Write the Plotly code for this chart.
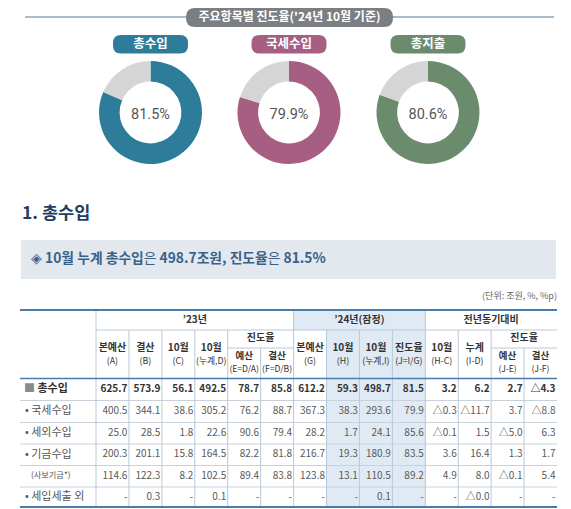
import plotly.graph_objects as go

# ---- data ----
donut_names = ["총수입", "국세수입", "총지출"]
donut_rates = [81.5, 79.9, 80.6]
donut_colors = ["#2d7d9a", "#a65e82", "#6b8b6d"]

group_labels = ["’23년", "’24년(잠정)", "전년동기대비"]
group_spans = [(0, 6), (6, 10), (10, 14)]
col_top = ["본예산", "결산", "10월", "10월", "예산", "결산", "본예산",
           "10월", "10월", "진도율", "10월", "누계", "예산", "결산"]
col_bottom = ["(A)", "(B)", "(C)", "(누계,D)", "(E=D/A)", "(F=D/B)", "(G)",
              "(H)", "(누계,I)", "(J=I/G)", "(H-C)", "(I-D)", "(J-E)", "(J-F)"]
sub_groups = [(4, 6), (12, 14)]  # '진도율' spans

row_labels = ["총수입", "국세수입", "세외수입", "기금수입", "(사보기금*)", "세입세출 외"]
row_values = [
    ["625.7", "573.9", "56.1", "492.5", "78.7", "85.8", "612.2", "59.3", "498.7", "81.5", "3.2", "6.2", "2.7", "△4.3"],
    ["400.5", "344.1", "38.6", "305.2", "76.2", "88.7", "367.3", "38.3", "293.6", "79.9", "△0.3", "△11.7", "3.7", "△8.8"],
    ["25.0", "28.5", "1.8", "22.6", "90.6", "79.4", "28.2", "1.7", "24.1", "85.6", "△0.1", "1.5", "△5.0", "6.3"],
    ["200.3", "201.1", "15.8", "164.5", "82.2", "81.8", "216.7", "19.3", "180.9", "83.5", "3.6", "16.4", "1.3", "1.7"],
    ["114.6", "122.3", "8.2", "102.5", "89.4", "83.8", "123.8", "13.1", "110.5", "89.2", "4.9", "8.0", "△0.1", "5.4"],
    ["-", "0.3", "-", "0.1", "-", "-", "-", "-", "0.1", "-", "-", "△0.0", "-", "-"],
]

# ---- layout constants (px, page coordinates) ----
W, H = 571, 509
OFF = 8  # browser body margin; the axes are set so data units equal page pixels
FONT = "Noto Sans CJK KR"
BLUE = "#4a7cab"
GRID = "#b9c8d6"
SHADE = "#e0eaf4"

tbl_left, tbl_first, tbl_right = 20, 96, 557
col_w = (tbl_right - tbl_first) / 14
col_edges = [tbl_first + col_w * i for i in range(15)]
y_top, y_h1, y_sub, y_head = 310, 330, 348, 378.5
row_edges = [378.5, 400.5, 422.5, 444, 465.5, 487, 507]

fig = go.Figure()
shapes = []


def line(x0, y0, x1, y1, color, width=1):
    shapes.append(dict(type="line", xref="x", yref="y", x0=x0, y0=y0, x1=x1, y1=y1,
                       line=dict(color=color, width=width), layer="below"))


def pill(x0, x1, y0, y1, color, r=8):
    p = (f"M{x0 + r},{y0} L{x1 - r},{y0} Q{x1},{y0} {x1},{y0 + r} L{x1},{y1 - r} "
         f"Q{x1},{y1} {x1 - r},{y1} L{x0 + r},{y1} Q{x0},{y1} {x0},{y1 - r} "
         f"L{x0},{y0 + r} Q{x0},{y0} {x0 + r},{y0} Z")
    shapes.append(dict(type="path", xref="x", yref="y", path=p, fillcolor=color,
                       line=dict(width=0), layer="below"))


def text(xs, ys, labels, pos="middle center", size=10, color="#333", weight="normal"):
    fig.add_trace(go.Scatter(x=xs, y=ys, text=labels, mode="text", textposition=pos,
                             textfont=dict(family=FONT, size=size, color=color, weight=weight),
                             hoverinfo="skip", showlegend=False, cliponaxis=False))


# ---- top banner ----
line(25, 17, 554, 17, "#8ea5bb", 1.5)
pill(186, 393, 8, 27, "#7b7e82", 9)
text([289.5], [17.5], ["주요항목별 진도율('24년 10월 기준)"], size=12, color="white", weight="bold")

# ---- donuts ----
centers = [150.5, 289, 428]
cy, rad = 112.5, 51.5
for name, rate, color, cx in zip(donut_names, donut_rates, donut_colors, centers):
    pill(cx - 37.5, cx + 37.5, 35, 53.5, color, 8)
    text([cx], [44.5], [name], size=12.5, color="white", weight="bold")
    fig.add_trace(go.Pie(
        values=[rate, 100 - rate], marker=dict(colors=[color, "#d5d5d5"]),
        hole=0.6, sort=False, direction="clockwise", rotation=0,
        textinfo="none", hoverinfo="skip", showlegend=False,
        title=dict(text=f"{rate}%", position="middle center",
                   font=dict(family="Roboto", size=14.5, color="#555")),
        domain=dict(x=[(cx - rad - OFF) / (W - OFF), (cx + rad - OFF) / (W - OFF)],
                    y=[1 - (cy + rad - OFF) / (H - OFF), 1 - (cy - rad - OFF) / (H - OFF)]),
    ))

# ---- section title & callout ----
text([22], [215], ["1. 총수입"], pos="middle right", size=17.5, color="#223f60", weight="bold")
shapes.append(dict(type="rect", xref="x", yref="y", x0=21, x1=556, y0=240, y1=279,
                   fillcolor="#e2e8ee", line=dict(width=0), layer="below"))
text([31], [260],
     ["◈ <b>10월 누계 총수입</b>은 <b>498.7조원, 진도율</b>은 <b>81.5%</b>"],
     pos="middle right", size=13.8, color="#3b6189")
text([557], [297], ["(단위: 조원, %, %p)"], pos="middle left", size=9, color="#666")

# ---- table background shading ----
shapes.append(dict(type="rect", xref="x", yref="y", x0=col_edges[6], x1=col_edges[10],
                   y0=y_top, y1=y_h1, fillcolor=SHADE, line=dict(width=0), layer="below"))
shapes.append(dict(type="rect", xref="x", yref="y", x0=col_edges[7], x1=col_edges[10],
                   y0=y_h1, y1=row_edges[-1], fillcolor=SHADE, line=dict(width=0), layer="below"))

# ---- table grid ----
for y in row_edges[1:-1]:
    line(tbl_left, y, tbl_right, y, "#c9d2db", 1)
line(tbl_first, y_h1, tbl_right, y_h1, GRID, 1)
for a, b in sub_groups:
    line(col_edges[a], y_sub, col_edges[b], y_sub, GRID, 1)
line(tbl_first, y_top, tbl_first, row_edges[-1], GRID, 1)
for i in range(1, 14):
    if i in (6, 10):
        y0 = y_top
    elif any(a < i < b for a, b in sub_groups):
        y0 = y_sub
    else:
        y0 = y_h1
    line(col_edges[i], y0, col_edges[i], row_edges[-1], GRID, 1)
line(tbl_left, y_top, tbl_right, y_top, BLUE, 2)
line(tbl_left, y_head, tbl_right, y_head, BLUE, 1.3)
line(tbl_left, row_edges[-1], tbl_right, row_edges[-1], BLUE, 2)

# ---- header texts ----
for lab, (a, b) in zip(group_labels, group_spans):
    text([(col_edges[a] + col_edges[b]) / 2], [320.5], [lab], size=10, weight="bold")
for a, b in sub_groups:
    text([(col_edges[a] + col_edges[b]) / 2], [338.5], ["진도율"], size=10, weight="bold")
in_sub = [any(a <= i < b for a, b in sub_groups) for i in range(14)]
mids = [(col_edges[i] + col_edges[i + 1]) / 2 for i in range(14)]
text([m for m, s in zip(mids, in_sub) if not s], [348.5] * 10,
     [t for t, s in zip(col_top, in_sub) if not s], size=10, weight="bold")
text([m for m, s in zip(mids, in_sub) if not s], [362] * 10,
     [t for t, s in zip(col_bottom, in_sub) if not s], size=8.8)
text([m for m, s in zip(mids, in_sub) if s], [356.5] * 4,
     [t for t, s in zip(col_top, in_sub) if s], size=9.5, weight="bold")
text([m for m, s in zip(mids, in_sub) if s], [369.5] * 4,
     [t for t, s in zip(col_bottom, in_sub) if s], size=8.6)

# ---- body ----
for r, (lab, vals) in enumerate(zip(row_labels, row_values)):
    yc = (row_edges[r] + row_edges[r + 1]) / 2
    bold = r == 0
    if r == 0:
        text([24], [yc], ["<span style='color:#8a8a8a'>■</span> 총수입"], pos="middle right",
             size=11, color="#333", weight="bold")
    elif lab.startswith("("):
        text([31], [yc], [lab], pos="middle right", size=8.2, color="#555")
    else:
        text([25], [yc], ["• " + lab], pos="middle right", size=11, color="#555")
    text([e - 1.5 for e in col_edges[1:]], [yc] * 14, vals, pos="middle left",
         size=10, color="#333" if bold else "#595959", weight="bold" if bold else "normal")

fig.update_layout(
    width=W - OFF, height=H - OFF, margin=dict(l=0, r=0, t=0, b=0),
    paper_bgcolor="white", plot_bgcolor="white",
    xaxis=dict(range=[OFF, W], visible=False, fixedrange=True),
    yaxis=dict(range=[H, OFF], visible=False, fixedrange=True),
    shapes=shapes,
)

fig.write_html("out.html")
